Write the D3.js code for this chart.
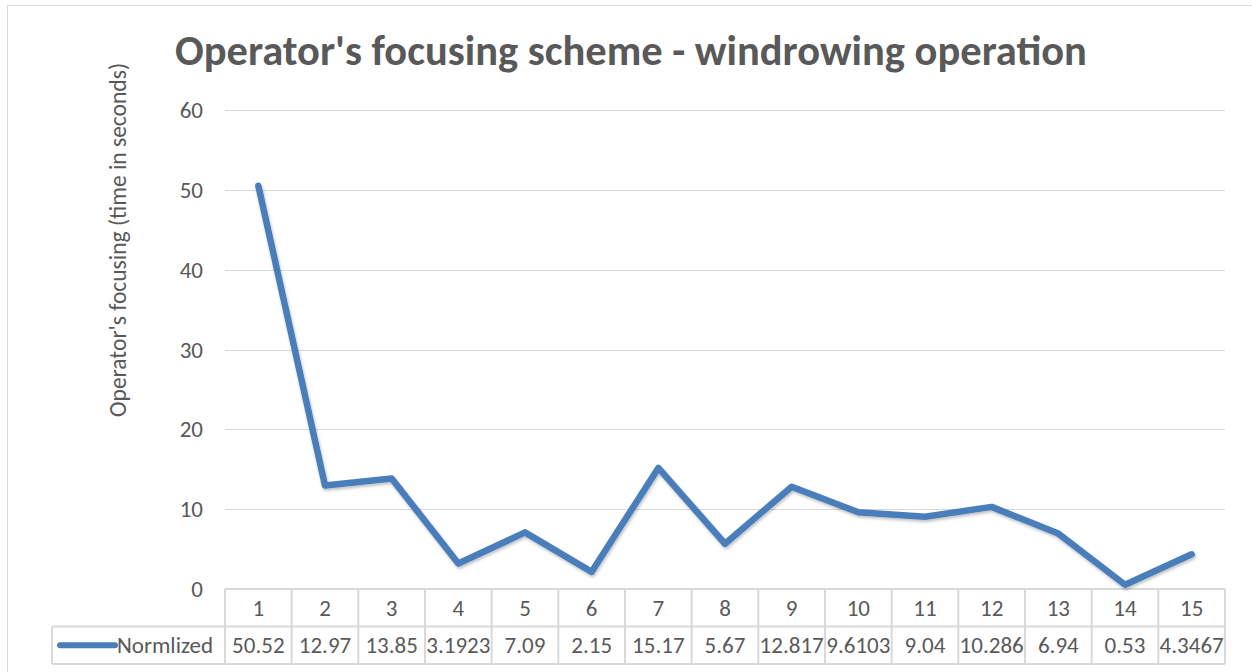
<!DOCTYPE html>
<html>
<head>
<meta charset="utf-8">
<script src="https://cdn.jsdelivr.net/npm/d3@7"></script>
<style>
  body { margin: 0; background: #fff; }
  text { font-family: Carlito, "Open Sans", "Noto Sans", sans-serif; fill: #595959; }
</style>
</head>
<body>
<div id="chart"></div>
<script>
// data
var categories = ["1","2","3","4","5","6","7","8","9","10","11","12","13","14","15"];
var valueLabels = ["50.52","12.97","13.85","3.1923","7.09","2.15","15.17","5.67","12.817","9.6103","9.04","10.286","6.94","0.53","4.3467"];
var values = valueLabels.map(Number);
var seriesName = "Normlized";
var yTicks = [0, 10, 20, 30, 40, 50, 60];

var svgWidth = 1252;
var svgHeight = 672;

var margin = { top: 110, right: 27, bottom: 83, left: 225 };
var width = svgWidth - margin.left - margin.right;   // 1000
var height = svgHeight - margin.top - margin.bottom;  // 479

var fontSize = "23px";

var svg = d3.select("#chart")
  .append("svg")
  .attr("width", svgWidth)
  .attr("height", svgHeight);

// soft shadow under the series line
var defs = svg.append("defs");
var filter = defs.append("filter").attr("id", "shadow")
  .attr("x", "-5%").attr("y", "-5%").attr("width", "110%").attr("height", "110%");
filter.append("feDropShadow")
  .attr("dx", 1).attr("dy", 2).attr("stdDeviation", 1.5)
  .attr("flood-color", "#000").attr("flood-opacity", 0.25);

// outer chart border
svg.append("rect")
  .attr("x", 7.5).attr("y", 5.5)
  .attr("width", svgWidth).attr("height", svgHeight)
  .attr("fill", "none")
  .attr("stroke", "#d9d9d9");

var chartGroup = svg.append("g")
  .attr("transform", `translate(${margin.left}, ${margin.top})`);

var xScale = d3.scaleBand()
  .domain(categories)
  .range([0, width]);

var yScale = d3.scaleLinear()
  .domain([0, 60])
  .range([height, 0]);

// gridlines
chartGroup.selectAll(".grid")
  .data(yTicks.filter(d => d > 0))
  .enter()
  .append("line")
  .attr("x1", 0).attr("x2", width)
  .attr("y1", d => Math.round(yScale(d)) + 0.5)
  .attr("y2", d => Math.round(yScale(d)) + 0.5)
  .attr("stroke", "#d9d9d9")
  .attr("stroke-width", 1);

// y tick labels
chartGroup.selectAll(".ytick")
  .data(yTicks)
  .enter()
  .append("text")
  .attr("x", -22)
  .attr("y", d => yScale(d))
  .attr("dy", "0.35em")
  .attr("text-anchor", "end")
  .attr("font-size", fontSize)
  .text(d => d);

// y axis title
chartGroup.append("text")
  .attr("transform", "rotate(-90)")
  .attr("x", -(240 - margin.top))
  .attr("y", 126 - margin.left)
  .attr("text-anchor", "middle")
  .attr("font-size", "23.5px")
  .text("Operator's focusing (time in seconds)");

// chart title
svg.append("text")
  .attr("x", 631)
  .attr("y", 65)
  .attr("text-anchor", "middle")
  .attr("font-size", "42.5px")
  .attr("font-weight", "bold")
  .text("Operator's focusing scheme - windrowing operation");

// data table
var rowH = 37.5;
var table = chartGroup.append("g").attr("transform", `translate(0, ${height})`);
var tableColor = "#d9d9d9";

// horizontal lines
[0, rowH, rowH * 2].forEach(function(y, i) {
  table.append("line")
    .attr("x1", i === 0 ? 0 : -173).attr("x2", width)
    .attr("y1", y).attr("y2", y)
    .attr("stroke", tableColor).attr("stroke-width", 2);
});

// vertical lines
table.selectAll(".vline")
  .data(categories.concat(["end"]))
  .enter()
  .append("line")
  .attr("x1", (d, i) => i * xScale.bandwidth())
  .attr("x2", (d, i) => i * xScale.bandwidth())
  .attr("y1", 0).attr("y2", rowH * 2)
  .attr("stroke", tableColor).attr("stroke-width", 2);

table.append("line")
  .attr("x1", -173).attr("x2", -173)
  .attr("y1", rowH).attr("y2", rowH * 2)
  .attr("stroke", tableColor).attr("stroke-width", 2);

// category labels
table.selectAll(".cat")
  .data(categories)
  .enter()
  .append("text")
  .attr("x", d => xScale(d) + xScale.bandwidth() / 2)
  .attr("y", rowH / 2)
  .attr("dy", "0.35em")
  .attr("text-anchor", "middle")
  .attr("font-size", fontSize)
  .text(d => d);

// value labels
table.selectAll(".val")
  .data(valueLabels)
  .enter()
  .append("text")
  .attr("x", (d, i) => xScale(categories[i]) + xScale.bandwidth() / 2)
  .attr("y", rowH * 1.5)
  .attr("dy", "0.35em")
  .attr("text-anchor", "middle")
  .attr("font-size", fontSize)
  .text(d => d);

// legend key
table.append("line")
  .attr("x1", -165).attr("x2", -110)
  .attr("y1", rowH * 1.5).attr("y2", rowH * 1.5)
  .attr("stroke", "#4a7ebb")
  .attr("stroke-width", 6)
  .attr("stroke-linecap", "round");

table.append("text")
  .attr("x", -108)
  .attr("y", rowH * 1.5)
  .attr("dy", "0.35em")
  .attr("font-size", fontSize)
  .text(seriesName);

// series line
var line = d3.line()
  .x((d, i) => xScale(categories[i]) + xScale.bandwidth() / 2)
  .y(d => yScale(d));

chartGroup.append("path")
  .datum(values)
  .attr("d", line)
  .attr("fill", "none")
  .attr("stroke", "#4a7ebb")
  .attr("stroke-width", 6.5)
  .attr("stroke-linejoin", "round")
  .attr("stroke-linecap", "round")
  .attr("filter", "url(#shadow)");
</script>
</body>
</html>
